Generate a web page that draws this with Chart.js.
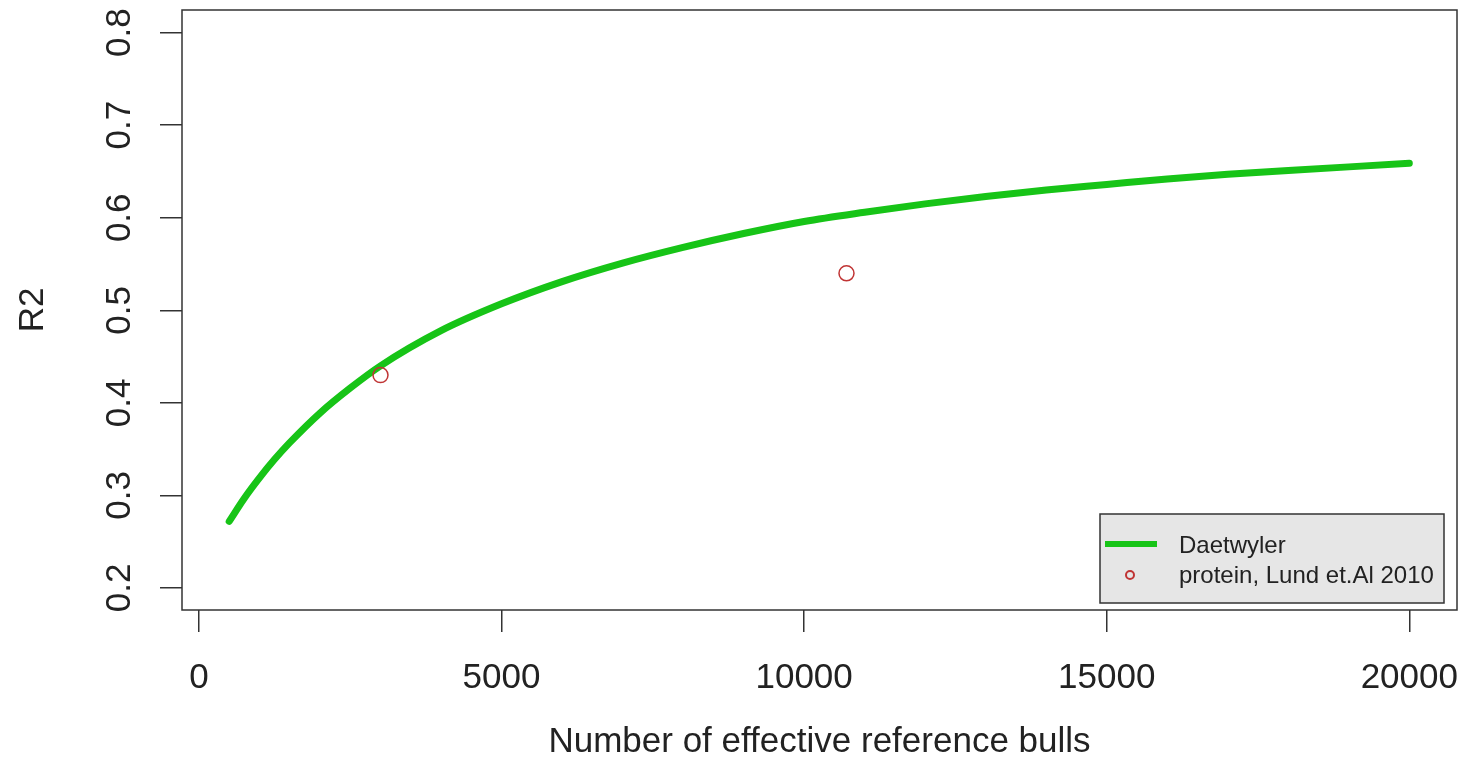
<!DOCTYPE html>
<html>
<head>
<meta charset="utf-8">
<script src="https://cdn.jsdelivr.net/npm/chart.js@4.4.1/dist/chart.umd.min.js"></script>
<style>
  html,body{margin:0;padding:0;background:#fff}
  #wrap{width:1466px;height:778px}
</style>
</head>
<body>
<div id="wrap"><canvas id="c" width="1466" height="778"></canvas></div>
<script>
// curve
const curveN  = [500,750,1000,1250,1500,2000,2500,3000,4000,5000,6000,7000,8000,9000,10000,11000,12000,13000,14000,15000,16000,17000,18000,19000,20000];
const curveR2 = [0.272,0.297,0.319,0.339,0.357,0.389,0.416,0.440,0.478,0.507,0.531,0.551,0.568,0.583,0.596,0.606,0.615,0.623,0.630,0.636,0.642,0.647,0.651,0.655,0.659];
// observed points
const obsN  = [3000,10700];
const obsR2 = [0.43,0.54];

const xTicks = [0,5000,10000,15000,20000];
const yTicks = [0.2,0.3,0.4,0.5,0.6,0.7,0.8];

const seriesNames = ['Daetwyler','protein, Lund et.Al 2010'];
const xTitle = 'Number of effective reference bulls';
const yTitle = 'R2';

const GREEN = '#17c417';
const RED = '#c03434';
const INK = '#333';
const FONT = '"Liberation Sans", Arial, sans-serif';

const rBase = {
  id:'rBase',
  afterDraw(chart) {
    const {ctx, chartArea:a, scales:{x,y}} = chart;
    ctx.save();
    // box
    ctx.strokeStyle = INK; ctx.lineWidth = 1.5;
    ctx.strokeRect(a.left, a.top, a.right-a.left, a.bottom-a.top);

    ctx.fillStyle = '#222';
    ctx.font = '35px ' + FONT;
    // x tick labels
    ctx.textAlign = 'center'; ctx.textBaseline = 'alphabetic';
    xTicks.forEach(v => ctx.fillText(String(v), x.getPixelForValue(v), 688));
    // y tick labels (rotated, R style)
    yTicks.forEach(v => {
      ctx.save();
      ctx.translate(130, y.getPixelForValue(v));
      ctx.rotate(-Math.PI/2);
      ctx.fillText(v.toFixed(1), 0, 0);
      ctx.restore();
    });
    // axis titles
    ctx.fillText(xTitle, (a.left+a.right)/2, 752);
    ctx.save();
    ctx.translate(43, (a.top+a.bottom)/2);
    ctx.rotate(-Math.PI/2);
    ctx.fillText(yTitle, 0, 0);
    ctx.restore();

    // legend
    const lx = a.right - 357, ly = a.bottom - 96, lw = 344, lh = 89;
    ctx.fillStyle = '#e6e6e6';
    ctx.fillRect(lx, ly, lw, lh);
    ctx.strokeStyle = INK; ctx.lineWidth = 1.5;
    ctx.strokeRect(lx, ly, lw, lh);
    ctx.strokeStyle = GREEN; ctx.lineWidth = 6; ctx.lineCap = 'butt';
    ctx.beginPath(); ctx.moveTo(lx+5, ly+30); ctx.lineTo(lx+57, ly+30); ctx.stroke();
    ctx.strokeStyle = RED; ctx.lineWidth = 2;
    ctx.beginPath(); ctx.arc(lx+30, ly+61, 4, 0, Math.PI*2); ctx.stroke();
    ctx.fillStyle = '#222';
    ctx.font = '24px ' + FONT;
    ctx.textAlign = 'left';
    ctx.fillText(seriesNames[0], lx+79, ly+39);
    ctx.fillText(seriesNames[1], lx+79, ly+69);
    ctx.restore();
  }
};

new Chart(document.getElementById('c'), {
  type:'scatter',
  data:{datasets:[
    {label:seriesNames[0], data:curveN.map((n,i)=>({x:n,y:curveR2[i]})),
     showLine:true, borderColor:GREEN, borderWidth:7, pointRadius:0, borderCapStyle:'round',
     cubicInterpolationMode:'monotone', fill:false, order:2},
    {label:seriesNames[1], data:obsN.map((n,i)=>({x:n,y:obsR2[i]})),
     showLine:false, pointStyle:'circle', pointRadius:7.5, pointBorderWidth:1.5,
     pointBorderColor:RED, pointBackgroundColor:'rgba(0,0,0,0)', order:1}
  ]},
  options:{
    responsive:false, animation:false, devicePixelRatio:1,
    layout:{padding:{left:0, top:10, right:1, bottom:0}},
    plugins:{legend:{display:false}, tooltip:{enabled:false}},
    scales:{
      x:{type:'linear', min:-280, max:20788,
         afterBuildTicks:s=>{s.ticks = xTicks.map(v=>({value:v}));},
         afterFit:s=>{s.height = 168;},
         ticks:{display:false},
         border:{display:false},
         grid:{drawOnChartArea:false, drawTicks:true, tickLength:22, color:INK, lineWidth:1.5}},
      y:{type:'linear', min:0.1762, max:0.8245,
         afterBuildTicks:s=>{s.ticks = yTicks.map(v=>({value:v}));},
         afterFit:s=>{s.width = 182;},
         ticks:{display:false},
         border:{display:false},
         grid:{drawOnChartArea:false, drawTicks:true, tickLength:22, color:INK, lineWidth:1.5}}
    }
  },
  plugins:[rBase]
});
</script>
</body>
</html>
